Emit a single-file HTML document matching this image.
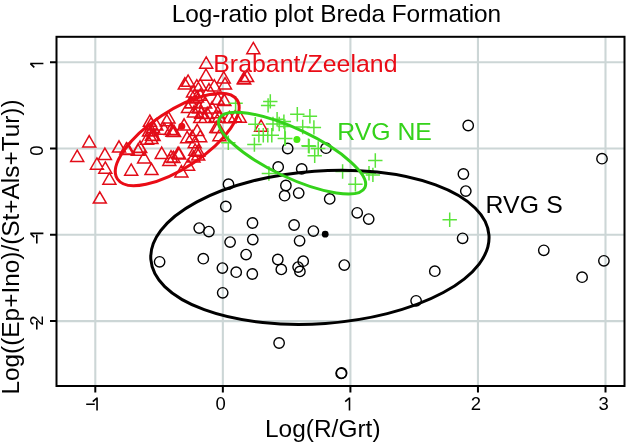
<!DOCTYPE html>
<html><head><meta charset="utf-8"><style>
html,body{margin:0;padding:0;background:#fff;}
svg{display:block;font-family:"Liberation Sans",sans-serif;will-change:transform;}
</style></head><body>
<svg width="627" height="447" viewBox="0 0 627 447">
<rect width="627" height="447" fill="#fff"/>
<g stroke="#ccd6d6" stroke-width="2.1"><line x1="95.30" y1="37" x2="95.30" y2="386"/><line x1="222.85" y1="37" x2="222.85" y2="386"/><line x1="350.40" y1="37" x2="350.40" y2="386"/><line x1="477.95" y1="37" x2="477.95" y2="386"/><line x1="605.50" y1="37" x2="605.50" y2="386"/><line x1="56" y1="62.20" x2="625" y2="62.20"/><line x1="56" y1="148.50" x2="625" y2="148.50"/><line x1="56" y1="234.80" x2="625" y2="234.80"/><line x1="56" y1="321.10" x2="625" y2="321.10"/></g>
<path d="M89.2 135.6L95.7 146.9L82.7 146.9ZM77.2 150.2L83.7 161.5L70.7 161.5ZM104.9 148.1L111.4 159.4L98.4 159.4ZM96.9 157.9L103.4 169.2L90.4 169.2ZM105.3 161.9L111.8 173.2L98.8 173.2ZM109.4 172.9L115.9 184.2L102.9 184.2ZM99.8 191.8L106.3 203.1L93.3 203.1ZM119.0 140.8L125.5 152.1L112.5 152.1ZM126.4 142.7L132.9 154.0L119.9 154.0ZM131.2 163.9L137.7 175.2L124.7 175.2ZM151.5 163.3L158.0 174.6L145.0 174.6ZM144.1 151.6L150.6 162.9L137.6 162.9ZM139.9 141.2L146.4 152.5L133.4 152.5ZM161.7 147.1L168.2 158.4L155.2 158.4ZM179.2 147.8L185.7 159.1L172.7 159.1ZM173.4 151.2L179.9 162.5L166.9 162.5ZM149.9 115.0L156.4 126.3L143.4 126.3ZM166.8 114.5L173.3 125.8L160.3 125.8ZM156.3 118.7L162.8 130.0L149.8 130.0ZM151.5 124.4L158.0 135.7L145.0 135.7ZM153.6 129.2L160.1 140.5L147.1 140.5ZM151.5 132.3L158.0 143.6L145.0 143.6ZM172.5 125.0L179.0 136.3L166.0 136.3ZM164.1 122.9L170.6 134.2L157.6 134.2ZM137.9 143.9L144.4 155.2L131.4 155.2ZM206.2 56.9L212.7 68.2L199.7 68.2ZM206.0 69.0L212.5 80.3L199.5 80.3ZM188.1 75.0L194.6 86.3L181.6 86.3ZM184.8 77.7L191.3 89.0L178.3 89.0ZM223.7 71.7L230.2 83.0L217.2 83.0ZM225.0 77.7L231.5 89.0L218.5 89.0ZM196.8 79.7L203.3 91.0L190.3 91.0ZM214.3 79.7L220.8 91.0L207.8 91.0ZM243.8 72.3L250.3 83.6L237.3 83.6ZM253.3 42.4L259.8 53.7L246.8 53.7ZM244.2 72.6L250.7 83.9L237.7 83.9ZM247.1 70.3L253.6 81.6L240.6 81.6ZM200.3 78.9L206.8 90.2L193.8 90.2ZM209.0 83.6L215.5 94.9L202.5 94.9ZM200.3 89.0L206.8 100.3L193.8 100.3ZM192.9 91.7L199.4 103.0L186.4 103.0ZM217.7 93.0L224.2 104.3L211.2 104.3ZM224.4 94.3L230.9 105.6L217.9 105.6ZM190.9 96.4L197.4 107.7L184.4 107.7ZM198.9 101.0L205.4 112.3L192.4 112.3ZM217.7 106.4L224.2 117.7L211.2 117.7ZM219.1 110.9L225.6 122.2L212.6 122.2ZM239.7 110.9L246.2 122.2L233.2 122.2ZM235.2 110.4L241.7 121.7L228.7 121.7ZM224.1 93.8L230.6 105.1L217.6 105.1ZM218.1 121.4L224.6 132.7L211.6 132.7ZM184.1 118.8L190.6 130.1L177.6 130.1ZM168.5 111.7L175.0 123.0L162.0 123.0ZM171.0 123.3L177.5 134.6L164.5 134.6ZM174.1 125.3L180.6 136.6L167.6 136.6ZM197.2 124.3L203.7 135.6L190.7 135.6ZM200.2 130.4L206.7 141.7L193.7 141.7ZM192.2 130.4L198.7 141.7L185.7 141.7ZM187.1 131.4L193.6 142.7L180.6 142.7ZM194.7 136.4L201.2 147.7L188.2 147.7ZM195.2 144.0L201.7 155.3L188.7 155.3ZM198.2 145.0L204.7 156.3L191.7 156.3ZM178.1 147.0L184.6 158.3L171.6 158.3ZM171.0 150.7L177.5 162.0L164.5 162.0ZM216.3 121.3L222.8 132.6L209.8 132.6ZM219.4 129.4L225.9 140.7L212.9 140.7ZM200.2 111.3L206.7 122.6L193.7 122.6ZM205.3 111.3L211.8 122.6L198.8 122.6ZM215.3 110.7L221.8 122.0L208.8 122.0ZM261.1 120.0L267.6 131.3L254.6 131.3ZM191.1 96.8L197.6 108.1L184.6 108.1ZM205.2 96.8L211.7 108.1L198.7 108.1ZM199.2 101.8L205.7 113.1L192.7 113.1ZM201.2 106.9L207.7 118.2L194.7 118.2ZM207.2 107.2L213.7 118.5L200.7 118.5ZM194.0 105.7L200.5 117.0L187.5 117.0ZM188.0 101.2L194.5 112.5L181.5 112.5ZM212.0 101.7L218.5 113.0L205.5 113.0ZM193.0 85.7L199.5 97.0L186.5 97.0ZM197.0 90.7L203.5 102.0L190.5 102.0ZM229.4 111.4L235.9 122.7L222.9 122.7ZM151.0 117.7L157.5 129.0L144.5 129.0ZM153.0 121.3L159.5 132.6L146.5 132.6ZM149.0 124.8L155.5 136.1L142.5 136.1ZM152.0 128.9L158.5 140.2L145.5 140.2ZM147.0 132.9L153.5 144.2L140.5 144.2ZM140.1 141.0L146.6 152.3L133.6 152.3ZM128.0 143.2L134.5 154.5L121.5 154.5ZM188.1 158.9L194.6 170.2L181.6 170.2ZM181.4 165.6L187.9 176.9L174.9 176.9ZM193.5 150.8L200.0 162.1L187.0 162.1ZM198.2 148.8L204.7 160.1L191.7 160.1ZM169.3 154.2L175.8 165.5L162.8 165.5Z" fill="none" stroke="#e20c18" stroke-width="1.5" stroke-linejoin="miter"/>
<g fill="none" stroke="#000" stroke-width="1.4"><circle cx="287.7" cy="148.5" r="5.2"/><circle cx="326.0" cy="148.2" r="5.2"/><circle cx="278.2" cy="166.9" r="5.2"/><circle cx="301.7" cy="168.9" r="5.2"/><circle cx="228.5" cy="184.2" r="5.2"/><circle cx="285.9" cy="185.5" r="5.2"/><circle cx="284.6" cy="195.7" r="5.2"/><circle cx="298.7" cy="193.1" r="5.2"/><circle cx="329.7" cy="198.9" r="5.2"/><circle cx="225.8" cy="206.5" r="5.2"/><circle cx="252.5" cy="223.0" r="5.2"/><circle cx="199.2" cy="228.1" r="5.2"/><circle cx="208.9" cy="231.6" r="5.2"/><circle cx="294.1" cy="225.0" r="5.2"/><circle cx="230.1" cy="242.1" r="5.2"/><circle cx="252.8" cy="239.6" r="5.2"/><circle cx="299.6" cy="240.8" r="5.2"/><circle cx="159.6" cy="261.8" r="5.2"/><circle cx="203.3" cy="258.7" r="5.2"/><circle cx="246.1" cy="254.6" r="5.2"/><circle cx="277.8" cy="259.5" r="5.2"/><circle cx="222.4" cy="268.1" r="5.2"/><circle cx="236.2" cy="272.2" r="5.2"/><circle cx="252.3" cy="274.0" r="5.2"/><circle cx="281.3" cy="269.4" r="5.2"/><circle cx="298.1" cy="267.1" r="5.2"/><circle cx="299.9" cy="271.4" r="5.2"/><circle cx="303.2" cy="261.2" r="5.2"/><circle cx="313.4" cy="231.1" r="5.2"/><circle cx="357.2" cy="212.8" r="5.2"/><circle cx="368.7" cy="219.1" r="5.2"/><circle cx="344.3" cy="265.1" r="5.2"/><circle cx="416.1" cy="300.8" r="5.2"/><circle cx="222.7" cy="292.8" r="5.2"/><circle cx="279.1" cy="343.0" r="5.2"/><circle cx="341.2" cy="373.4" r="5.2"/><circle cx="341.6" cy="373.0" r="5.2"/><circle cx="462.6" cy="238.3" r="5.2"/><circle cx="434.8" cy="271.2" r="5.2"/><circle cx="543.8" cy="250.3" r="5.2"/><circle cx="603.9" cy="260.8" r="5.2"/><circle cx="582.1" cy="277.2" r="5.2"/><circle cx="468.2" cy="125.5" r="5.2"/><circle cx="602.0" cy="158.7" r="5.2"/><circle cx="463.4" cy="174.0" r="5.2"/><circle cx="465.8" cy="191.1" r="5.2"/></g>
<path d="M263.1 101.4H277.5M270.3 94.2V108.6M260.9 105.4H275.3M268.1 98.2V112.6M290.1 114.2H304.5M297.3 107.0V121.4M228.4 103.2H242.8M235.6 96.0V110.4M247.2 144.6H261.6M254.4 137.4V151.8M221.1 142.8H235.5M228.3 135.6V150.0M251.7 135.3H266.1M258.9 128.1V142.5M256.1 135.3H270.5M263.3 128.1V142.5M260.6 135.3H275.0M267.8 128.1V142.5M264.6 135.3H279.0M271.8 128.1V142.5M248.1 124.2H262.5M255.3 117.0V131.4M269.9 119.3H284.3M277.1 112.1V126.5M276.7 121.6H291.1M283.9 114.4V128.8M278.1 138.5H292.5M285.3 131.3V145.7M265.8 124.0H280.2M273.0 116.8V131.2M272.0 124.0H286.4M279.2 116.8V131.2M302.7 116.3H317.1M309.9 109.1V123.5M295.5 127.0H309.9M302.7 119.8V134.2M306.7 127.4H321.1M313.9 120.2V134.6M277.6 126.5H292.0M284.8 119.3V133.7M277.6 138.6H292.0M284.8 131.4V145.8M301.3 145.8H315.7M308.5 138.6V153.0M301.9 146.2H316.3M309.1 139.0V153.4M307.5 155.7H321.9M314.7 148.5V162.9M335.4 171.5H349.8M342.6 164.3V178.7M348.2 184.3H362.6M355.4 177.1V191.5M368.1 160.5H382.5M375.3 153.3V167.7M361.8 173.3H376.2M369.0 166.1V180.5M365.7 174.9H380.1M372.9 167.7V182.1M442.5 219.8H456.9M449.7 212.6V227.0M261.7 173.5H276.1M268.9 166.3V180.7M311.0 148.5H325.4M318.2 141.3V155.7" fill="none" stroke="#5ae43a" stroke-width="1.5"/>
<ellipse cx="319.90" cy="247.30" rx="169.50" ry="76.30" transform="rotate(-4.10 319.90 247.30)" fill="none" stroke="#000" stroke-width="3"/>
<ellipse cx="177.23" cy="139.45" rx="71.69" ry="28.44" transform="rotate(-33.44 177.23 139.45)" fill="none" stroke="#ea0c16" stroke-width="3"/>
<ellipse cx="292.09" cy="153.12" rx="80.54" ry="24.22" transform="rotate(25.34 292.09 153.12)" fill="none" stroke="#34d21a" stroke-width="3"/>
<circle cx="181.8" cy="126.2" r="3.5" fill="#ea0c16"/>
<circle cx="296.9" cy="139.4" r="3.5" fill="#48ea12"/>
<circle cx="325.2" cy="234.2" r="3.4" fill="#000"/>
<rect x="56.5" y="36.8" width="568" height="349.2" fill="none" stroke="#000" stroke-width="2"/>
<path d="M95.30 386V392.5M222.85 386V392.5M350.40 386V392.5M477.95 386V392.5M605.50 386V392.5M56.5 62.20H50M56.5 148.50H50M56.5 234.80H50M56.5 321.10H50" stroke="#000" stroke-width="2" fill="none"/>
<g fill="#000" font-size="18.5"><text x="215.56" y="410.30" font-size="18.5">0</text><text x="470.66" y="410.30" font-size="18.5">2</text><text x="598.61" y="410.30" font-size="18.5">3</text><text transform="translate(43.20 155.84) rotate(-90)" font-size="18.5">0</text><text transform="translate(43.20 325.74) rotate(-90)" font-size="18.5">2</text></g>
<path d="M349.5 397.6V410.6M349.6 397.9L345.2 401.6M97.05 397.6V410.6M97.15 397.9L92.8 401.6M86.2 404.3H94.8M30.2 63.5H43.4M30.4 63.6L34.3 67.3M30.3 233.4H43.4M30.5 233.5L34.3 237.2M36.8 234.8V243.5M36.8 321.1V329.5" stroke="#000" stroke-width="1.6" fill="none"/>
<text x="171.7" y="21.8" font-size="24.4" textLength="329.5" lengthAdjust="spacing" fill="#000">Log-ratio plot Breda Formation</text>
<text x="264.9" y="437.2" font-size="24.4" textLength="115.6" lengthAdjust="spacing" fill="#000">Log(R/Grt)</text>
<text transform="translate(19.3 394.6) rotate(-90)" font-size="24.4" textLength="295.2" lengthAdjust="spacing" fill="#000">Log((Ep+Ino)/(St+Als+Tur))</text>
<text x="213.2" y="72.3" font-size="24.8" textLength="184.3" lengthAdjust="spacing" fill="#ea0c16">Brabant/Zeeland</text>
<text x="337.2" y="139.7" font-size="24.8" textLength="94.7" lengthAdjust="spacing" fill="#34d21a">RVG NE</text>
<text x="485.5" y="213.3" font-size="24.8" textLength="77.2" lengthAdjust="spacing" fill="#000">RVG S</text>
</svg></body></html>
